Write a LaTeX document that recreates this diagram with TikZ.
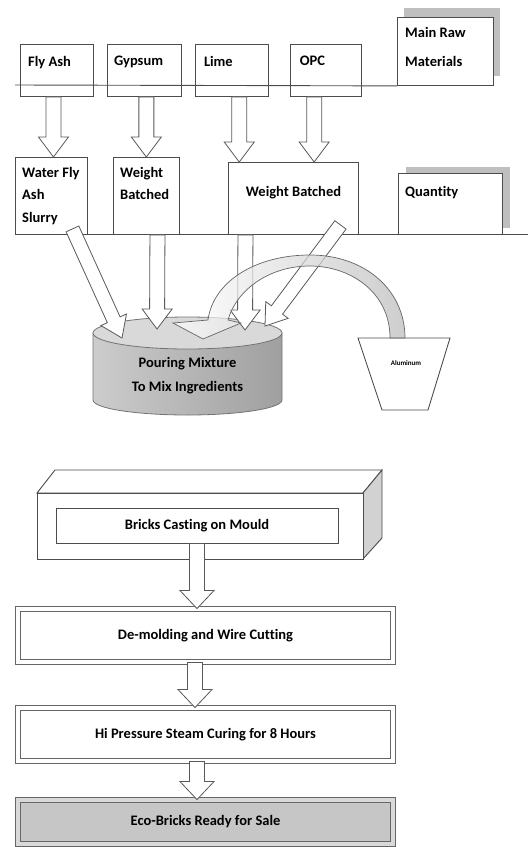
\documentclass[tikz,border=0pt]{standalone}
\usepackage{fontspec}
\setmainfont{Carlito}[Ligatures=NoCommon]
\usetikzlibrary{positioning, calc, shadows}

\begin{document}
\begin{tikzpicture}[x=1pt, y=-1pt, font=\fontsize{14.5}{17}\selectfont\bfseries,
        box/.style={rectangle, draw=black!70, line width=0.9pt, inner sep=0pt},
        shadowbox/.style 2 args={box, fill=white, drop shadow={shadow xshift=#1, shadow yshift=#2, fill=gray!50, opacity=1}},
        lbl/.style={anchor=north west, inner sep=0pt, align=left},
        stage/.style={rectangle, draw=black!60, line width=0.9pt, double=white, double distance=3.5pt, minimum width=375pt, inner sep=0pt},
        rule/.style={draw=black!70, line width=0.9pt},
        hollow/.style n args={3}{draw=black!65, line width=0.8pt, fill=white, line join=miter,
            to path={let \p1=(\tikztostart), \p2=(\tikztotarget),
                \n1={atan2(\y2-\y1,\x2-\x1)}, \n2={veclen(\x2-\x1,\y2-\y1)} in
                {[shift={(\p1)}, rotate=\n1, x=1pt, y=1pt]
                (0,-#1) -- (\n2-#3,-#1) -- (\n2-#3,-#2) -- (\n2,0) -- (\n2-#3,#2) -- (\n2-#3,#1) -- (0,#1) -- cycle}}}]

    \useasboundingbox (0,0) rectangle (528,847);

    % main raw materials
    \node [box, anchor=north west, minimum width=73pt, minimum height=52pt,
        label={[lbl, xshift=8pt, yshift=-12pt]north west:Fly Ash}] (flyash) at (20,44) {};
    \node [box, minimum width=74pt, minimum height=52pt, right=13pt of flyash,
        label={[lbl, xshift=7pt, yshift=-12pt]north west:Gypsum}] (gypsum) {};
    \node [box, minimum width=73pt, minimum height=52pt, right=13pt of gypsum,
        label={[lbl, xshift=9pt, yshift=-12pt]north west:Lime}] (lime) {};
    \node [box, minimum width=71pt, minimum height=52pt, right=21pt of lime,
        label={[lbl, xshift=10pt, yshift=-12pt]north west:OPC}] (opc) {};
    \node [shadowbox={7pt}{9pt}, anchor=north west, minimum width=96pt, minimum height=68pt,
        label={[lbl, xshift=8pt, yshift=-10pt]north west:{Main Raw\\[12pt]Materials}}] (mainraw) at (397,17) {};
    \draw [rule] (15,85) -- (mainraw.south west);

    % quantity row
    \node [box, anchor=north west, minimum width=72pt, minimum height=77pt,
        label={[lbl, xshift=7pt, yshift=-10pt]north west:{Water Fly\\[5.5pt]Ash\\[5.5pt]Slurry}}] (slurry) at (15,157) {};
    \node [box, anchor=north west, minimum width=66pt, minimum height=77pt,
        label={[lbl, xshift=7pt, yshift=-10pt]north west:{Weight\\[5pt]Batched}}] (wb1) at (113,157) {};
    \node [box, anchor=north west, minimum width=130pt, minimum height=72pt,
        label={[lbl, anchor=north, yshift=-24pt]north:Weight Batched}] (wb2) at (228,162) {};
    \node [shadowbox={8pt}{6pt}, anchor=north west, minimum width=104pt, minimum height=61pt,
        label={[lbl, xshift=7pt, yshift=-13pt]north west:Quantity}] (quantity) at (398,173) {};
    \draw [rule] (slurry.south west) -- ++(513,0);

    \draw [hollow={7.5}{15}{20}] ([xshift=-3.5pt]flyash.south) to ([xshift=-3.5pt]flyash.south |- slurry.north);
    \draw [hollow={7.5}{15}{20}] ([xshift=2pt]gypsum.south) to ([xshift=2pt]gypsum.south |- wb1.north);
    \draw [hollow={7.5}{15}{20}] ([xshift=7.5pt]lime.south) to ([xshift=7.5pt]lime.south |- wb2.north);
    \draw [hollow={7.5}{15}{20}] ([xshift=-11.5pt]opc.south) to ([xshift=-11.5pt]opc.south |- wb2.north);

    % mixing drum
    \shade [left color=gray!40, right color=gray!75, draw=black!55, line width=0.8pt]
        (93,333) -- (93,400) arc [start angle=180, end angle=0, x radius=94.5, y radius=15] -- (282,333) -- cycle;
    \filldraw [fill=gray!30, draw=black!55, line width=0.8pt] (187.5,333) ellipse [x radius=94.5, y radius=16];
    \node [align=center] (mix) at (187.5,376) {Pouring Mixture\\[7pt]To Mix Ingredients};
    \coordinate (in1) at (122,338);
    \coordinate (in2) at (157,329);
    \coordinate (in3) at (245,330);
    \coordinate (in4) at (265,326);

    \draw [hollow={7}{14}{20}] ([xshift=21pt, yshift=6pt]slurry.south) to (in1);
    \draw [hollow={7.5}{15}{20}] ([xshift=11pt]wb1.south) to (in2);
    \draw [hollow={7.5}{15}{20}] ([xshift=-48pt]wb2.south) to (in3);
    \draw [hollow={7}{14}{20}] ([xshift=47pt, yshift=10pt]wb2.south) to (in4);

    % aluminium bucket
    \draw [box] (358,338) -- (450,338) -- (428,410) -- (382,410) -- cycle;
    \node [font=\fontsize{7}{8}\selectfont\bfseries] (alu) at (406,363) {Aluminum};
    \shade [left color=white, middle color=white, right color=gray!55, draw=black!60, line width=0.7pt, fill opacity=0.7]
        (405,338) .. controls (405,290) and (365,255) .. (310,255) .. controls (255,255) and (213,282) .. (208,320)
        -- (173,323) -- (203,339) -- (241,323) -- (228,320)
        .. controls (236,291) and (268,266) .. (310,266) .. controls (350,266) and (390,292) .. (390,338) -- cycle;

    % production line
    \draw [box, fill=white] (37,493) -- (55,470) -- (382,470) -- (363,493) -- cycle;
    \draw [box, fill=gray!35] (363,493) -- (382,470) -- (382,538) -- (363,559) -- cycle;
    \node [box, fill=white, minimum width=326pt, minimum height=66pt] (cast) at (200,526) {};
    \node [box, minimum width=282pt, minimum height=35pt] (castin) at (197,525.5) {Bricks Casting on Mould};

    \node [stage, minimum height=53pt] (demold) at (205.5,635.5) {De-molding and Wire Cutting};
    \node [stage, minimum height=53pt] (hipress) at (205.5,734.5) {Hi Pressure Steam Curing for 8 Hours};
    \node [stage, fill=gray!45, double=gray!30, minimum height=44pt] (eco) at (205.5,822) {Eco-Bricks Ready for Sale};

    \draw [hollow={7.5}{17}{18}] (castin.south) to (castin.south |- demold.north);
    \draw [hollow={7.5}{17}{18}] ([xshift=-2pt]castin.south |- demold.south) to ([xshift=-2pt]castin.south |- hipress.north);
    \draw [hollow={7.5}{17}{18}] (castin.south |- hipress.south) to (castin.south |- eco.north);
\end{tikzpicture}
\end{document}
